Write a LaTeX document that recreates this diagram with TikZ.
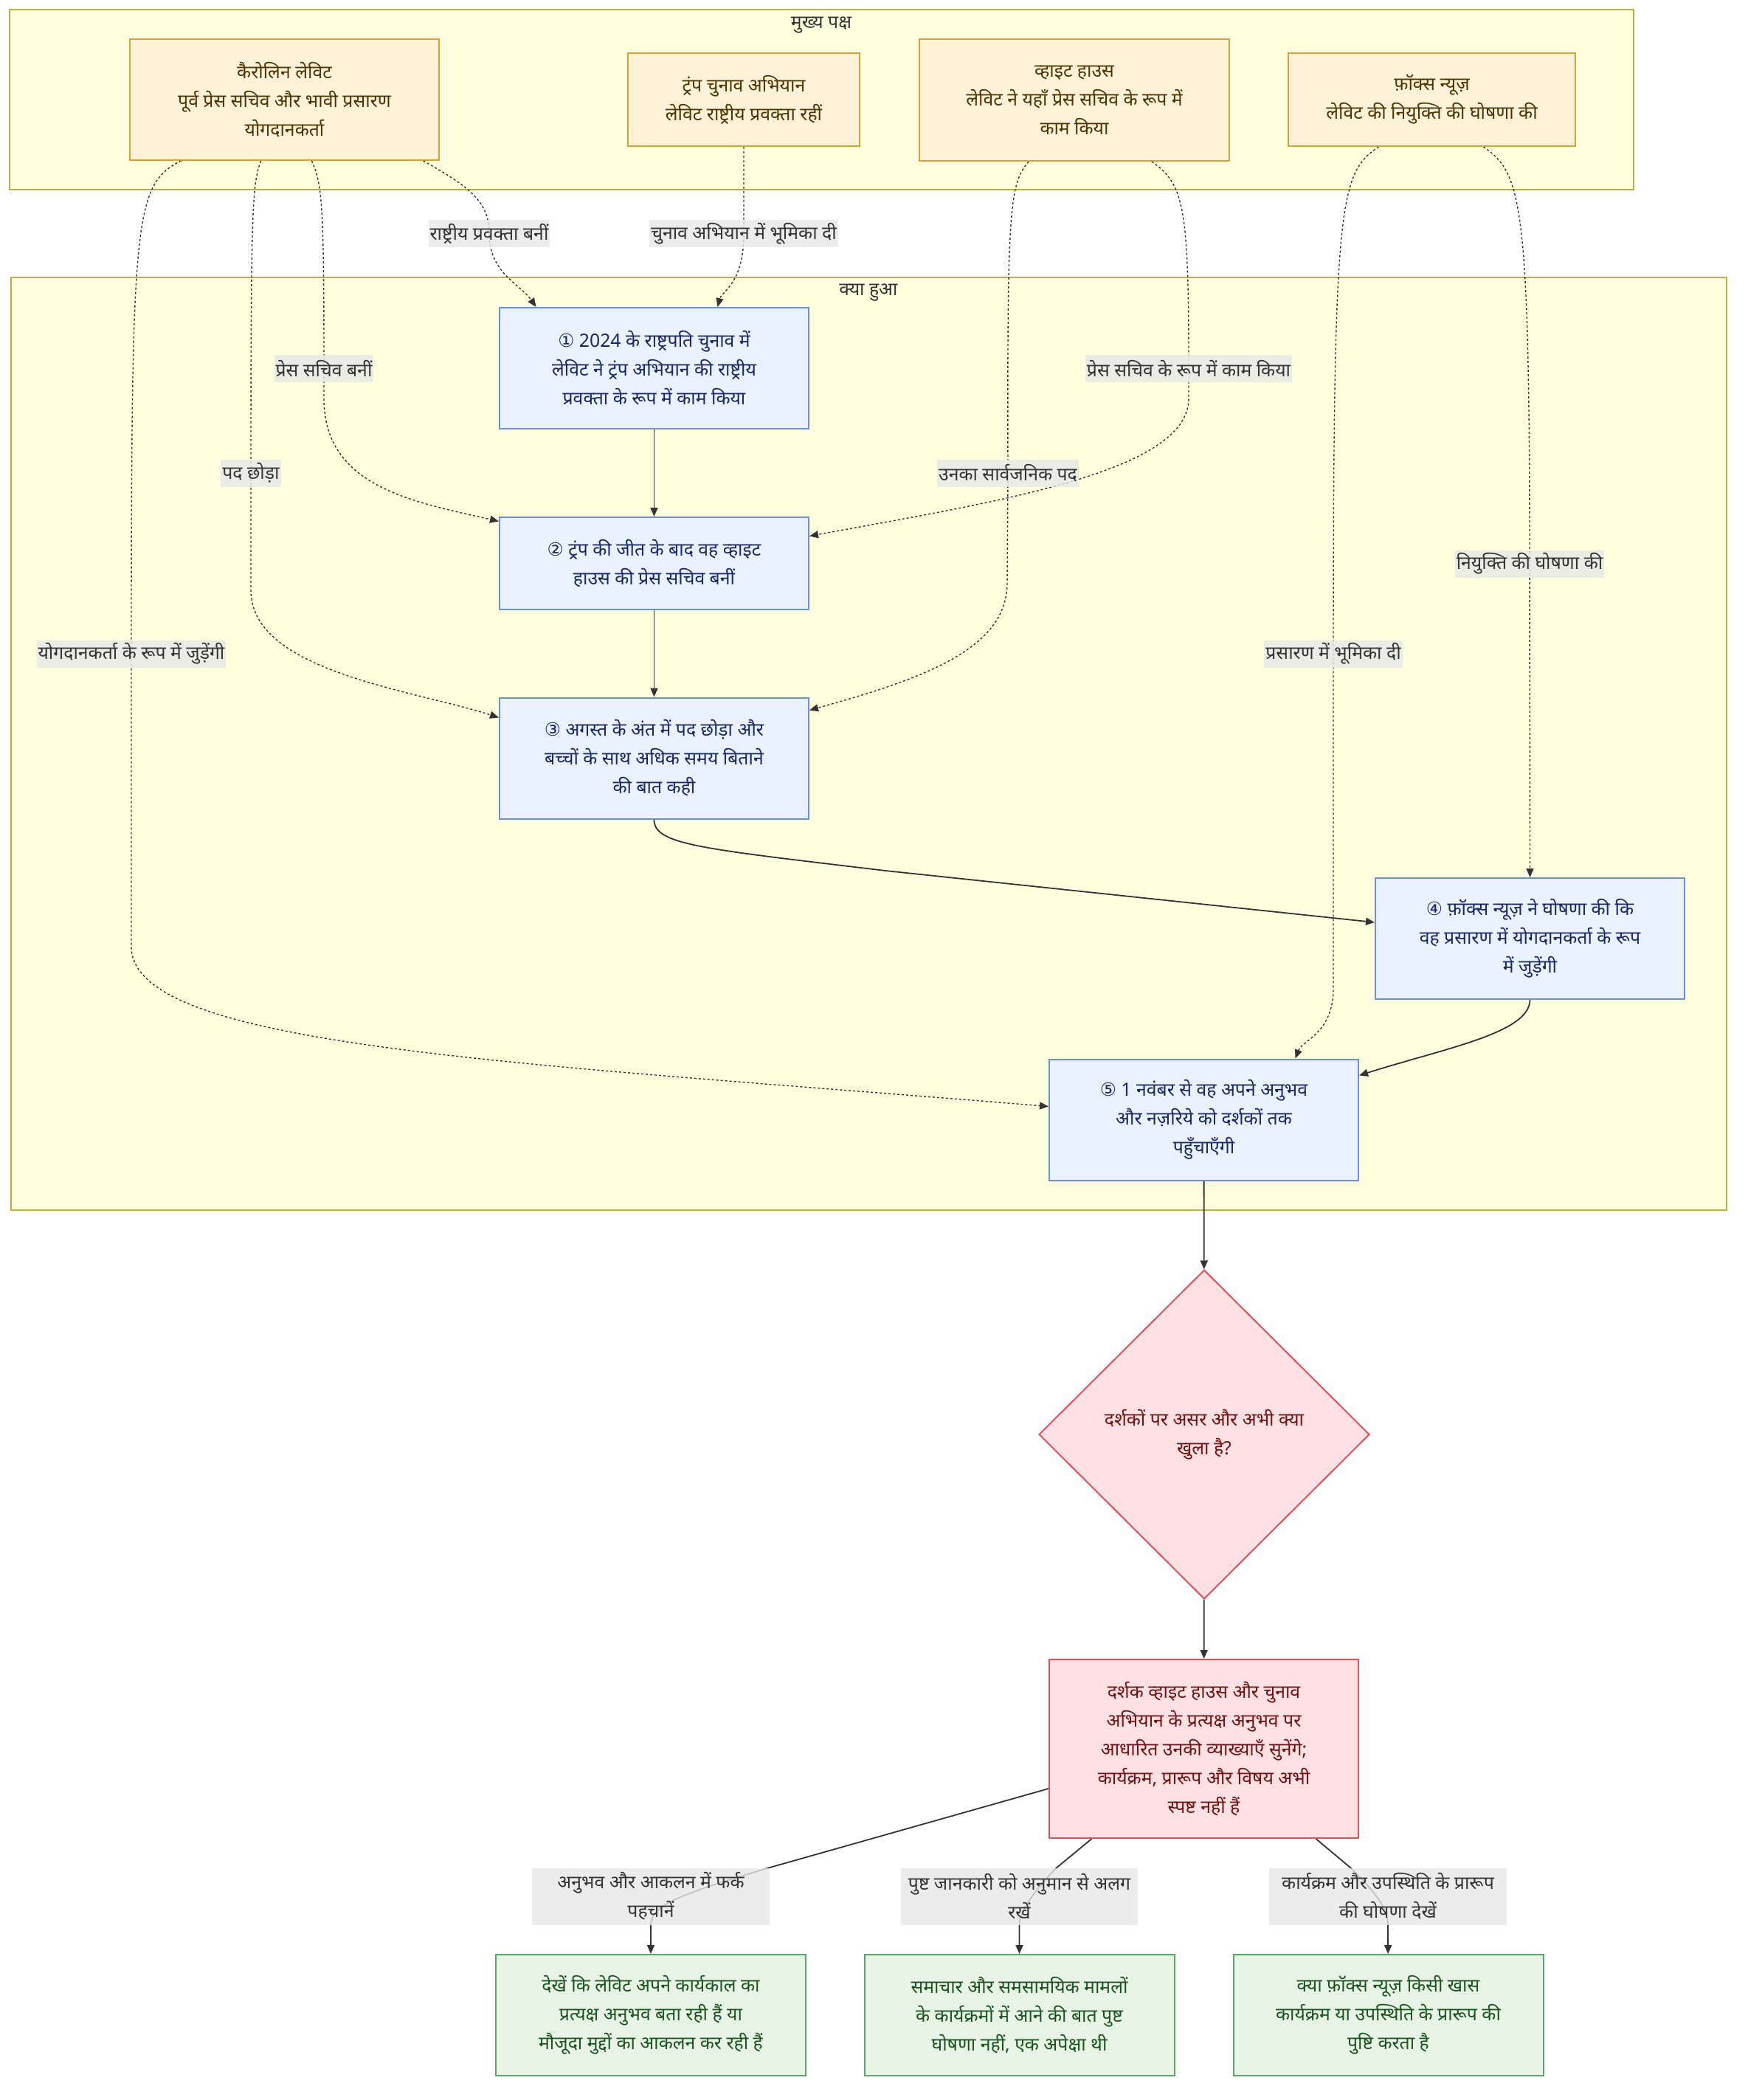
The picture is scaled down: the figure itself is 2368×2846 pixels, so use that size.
\documentclass[tikz,border=0pt]{standalone}
\usepackage{fontspec}
\setmainfont[Script=Devanagari]{Noto Sans}
\newfontfamily\circfont{DejaVu Sans}
\usetikzlibrary{shapes.geometric,arrows.meta}
\pgfdeclarelayer{back}
\pgfdeclarelayer{wires}
\pgfsetlayers{back,wires,main}
\definecolor{grpfill}{HTML}{FFFFDE}
\definecolor{grpline}{HTML}{B3B345}
\definecolor{partyfill}{HTML}{FFF2D9}
\definecolor{partyline}{HTML}{D9A035}
\definecolor{partytext}{HTML}{4D3300}
\definecolor{stepfill}{HTML}{EAF1FF}
\definecolor{stepline}{HTML}{6B8FDB}
\definecolor{steptext}{HTML}{1A2766}
\definecolor{askfill}{HTML}{FFE1E4}
\definecolor{askline}{HTML}{D9545B}
\definecolor{asktext}{HTML}{6E1212}
\definecolor{chkfill}{HTML}{E7F4E5}
\definecolor{chkline}{HTML}{5BA66A}
\definecolor{chktext}{HTML}{1B5320}
\definecolor{lblfill}{HTML}{E8E8E8}
\definecolor{txtgray}{HTML}{333333}
\newcommand{\circno}[1]{{\circfont #1}}
\newcommand{\dtext}{\fontsize{12.4}{19.5}\selectfont}

\begin{document}
\begin{tikzpicture}[x=0.5pt,y=-0.5pt]
    \tikzstyle{grp}=[draw=grpline,fill=grpfill,line width=1pt]
    \tikzstyle{grptitle}=[text=txtgray,font=\dtext,inner sep=0pt]
    \tikzstyle{party}=[draw=partyline,fill=partyfill,text=partytext,line width=1pt,align=center,font=\dtext,inner sep=0pt]
    \tikzstyle{stepbox}=[draw=stepline,fill=stepfill,text=steptext,line width=1pt,align=center,font=\dtext,inner sep=0pt,minimum width=209.5pt,minimum height=82pt]
    \tikzstyle{askbox}=[draw=askline,fill=askfill,text=asktext,line width=1pt,align=center,font=\dtext,inner sep=0pt]
    \tikzstyle{chkbox}=[draw=chkline,fill=chkfill,text=chktext,line width=1pt,align=center,font=\dtext,inner sep=0pt,minimum width=210pt,minimum height=82pt]
    \tikzstyle{lbl}=[fill=lblfill,fill opacity=0.8,text opacity=1,text=txtgray,align=center,font=\dtext,inner xsep=1pt,inner ysep=0pt,minimum height=18.5pt]
    \tikzstyle{solidlink}=[draw=txtgray,line width=0.9pt,-{Triangle[length=6pt,width=5pt]}]
    \tikzstyle{dotlink}=[draw=txtgray,line width=0.7pt,dash pattern=on 1.5pt off 1.5pt,-{Triangle[length=6pt,width=5pt]}]

    \useasboundingbox (0,0) rectangle (2368,2846);

    \begin{pgfonlayer}{back}
    \fill[white] (0,0) rectangle (2368,2846);
    \draw[grp] (13,13) rectangle (2214,257);
    \draw[grp] (15,376) rectangle (2340,1640);
    \end{pgfonlayer}
    \node[grptitle] (sides) at (1113,34) {मुख्य पक्ष};
    \node[grptitle] (events) at (1177,397) {क्या हुआ};

    \node[party,minimum width=209.5pt,minimum height=82pt] (caro) at (385.5,135) {कैरोलिन लेविट\\पूर्व प्रेस सचिव और भावी प्रसारण\\योगदानकर्ता};
    \node[party,minimum width=157pt,minimum height=63pt] (trump) at (1008,135) {ट्रंप चुनाव अभियान\\लेविट राष्ट्रीय प्रवक्ता रहीं};
    \node[party,minimum width=210pt,minimum height=82.5pt] (wh) at (1456,135.5) {व्हाइट हाउस\\लेविट ने यहाँ प्रेस सचिव के रूप में\\काम किया};
    \node[party,minimum width=194.5pt,minimum height=63pt] (fox) at (1940.5,135) {फ़ॉक्स न्यूज़\\लेविट की नियुक्ति की घोषणा की};

    \node[stepbox] (n1) at (886.5,499) {\circno{①} 2024 के राष्ट्रपति चुनाव में\\लेविट ने ट्रंप अभियान की राष्ट्रीय\\प्रवक्ता के रूप में काम किया};
    \node[stepbox,minimum height=62.5pt] (n2) at (886.5,763.5) {\circno{②} ट्रंप की जीत के बाद वह व्हाइट\\हाउस की प्रेस सचिव बनीं};
    \node[stepbox] (n3) at (886.5,1027.5) {\circno{③} अगस्त के अंत में पद छोड़ा और\\बच्चों के साथ अधिक समय बिताने\\की बात कही};
    \node[stepbox] (n4) at (2073.5,1272) {\circno{④} फ़ॉक्स न्यूज़ ने घोषणा की कि\\वह प्रसारण में योगदानकर्ता के रूप\\में जुड़ेंगी};
    \node[stepbox] (n5) at (1631.5,1517.5) {\circno{⑤} 1 नवंबर से वह अपने अनुभव\\और नज़रिये को दर्शकों तक\\पहुँचाएँगी};

    \node[askbox,diamond,minimum width=224pt,minimum height=223pt] (ask) at (1632,1944) {दर्शकों पर असर और अभी क्या\\खुला है?};
    \node[askbox,minimum width=209.5pt,minimum height=121pt] (out) at (1631.5,2370) {दर्शक व्हाइट हाउस और चुनाव\\अभियान के प्रत्यक्ष अनुभव पर\\आधारित उनकी व्याख्याएँ सुनेंगे;\\कार्यक्रम, प्रारूप और विषय अभी\\स्पष्ट नहीं हैं};

    \node[chkbox] (g1) at (882,2731) {देखें कि लेविट अपने कार्यकाल का\\प्रत्यक्ष अनुभव बता रही हैं या\\मौजूदा मुद्दों का आकलन कर रही हैं};
    \node[chkbox] (g2) at (1381.5,2731) {समाचार और समसामयिक मामलों\\के कार्यक्रमों में आने की बात पुष्ट\\घोषणा नहीं, एक अपेक्षा थी};
    \node[chkbox] (g3) at (1881.5,2731) {क्या फ़ॉक्स न्यूज़ किसी खास\\कार्यक्रम या उपस्थिति के प्रारूप की\\पुष्टि करता है};

    \node[lbl] (la) at (663,317) {राष्ट्रीय प्रवक्ता बनीं};
    \node[lbl] (le) at (1008,317) {चुनाव अभियान में भूमिका दी};
    \node[lbl] (lb) at (439,500) {प्रेस सचिव बनीं};
    \node[lbl] (lc) at (340,641) {पद छोड़ा};
    \node[lbl] (ld) at (178,886) {योगदानकर्ता के रूप में जुड़ेंगी};
    \node[lbl] (lf) at (1611,500) {प्रेस सचिव के रूप में काम किया};
    \node[lbl] (lg) at (1366,641) {उनका सार्वजनिक पद};
    \node[lbl] (lh) at (2073,764) {नियुक्ति की घोषणा की};
    \node[lbl] (li) at (1807,886) {प्रसारण में भूमिका दी};
    \node[lbl,minimum width=161pt,minimum height=38.5pt] (lj) at (882,2570) {अनुभव और आकलन में फर्क\\पहचानें};
    \node[lbl,minimum width=160.5pt,minimum height=38.5pt] (lk) at (1381.5,2570) {पुष्ट जानकारी को अनुमान से अलग\\रखें};
    \node[lbl,minimum width=161pt,minimum height=38.5pt] (ll) at (1881,2570) {कार्यक्रम और उपस्थिति के प्रारूप\\की घोषणा देखें};

    \begin{pgfonlayer}{wires}
    \draw[dotlink] ([shift={(188,0)}]caro.south) .. controls (640,255) and (663,275) .. (la.center) .. controls (663,370) and (705,385) .. ([shift={(-160,0)}]n1.north);
    \draw[dotlink] (trump.south) -- (le.center) .. controls (1008,385) and (978,395) .. ([shift={(86,0)}]n1.north);
    \draw[dotlink] ([shift={(37,0)}]caro.south) .. controls (437,250) and (439,280) .. (lb.center) -- (439,540) .. controls (439,660) and (560,680) .. ([shift={(0,-57)}]n2.west);
    \draw[dotlink] ([shift={(-32,0)}]caro.south) .. controls (342,250) and (340,280) .. (lc.center) -- (340,800) .. controls (340,910) and (560,935) .. ([shift={(0,-55)}]n3.west);
    \draw[dotlink] ([shift={(-140,0)}]caro.south) .. controls (182,250) and (178,290) .. (ld.center) -- (178,1283) .. controls (178,1420) and (700,1440) .. ([shift={(0,-18)}]n5.west);
    \draw[dotlink] ([shift={(105,0)}]wh.south) .. controls (1605,250) and (1611,280) .. (lf.center) -- (1611,540) .. controls (1611,640) and (1350,680) .. ([shift={(0,-37)}]n2.east);
    \draw[dotlink] ([shift={(-62,0)}]wh.south) .. controls (1368,250) and (1365,280) .. (lg.center) -- (1365,790) .. controls (1365,880) and (1250,920) .. ([shift={(0,-65)}]n3.east);
    \draw[dotlink] ([shift={(70,0)}]fox.south) .. controls (2062,235) and (2073,270) .. (lh.center) -- (n4.north);
    \draw[dotlink] ([shift={(-72,0)}]fox.south) .. controls (1815,235) and (1807,270) .. (li.center) -- (1807,1340) .. controls (1807,1400) and (1765,1410) .. ([shift={(124,0)}]n5.north);

    \draw[solidlink] (n1) -- (n2);
    \draw[solidlink] (n2) -- (n3);
    \draw[solidlink] (n3.south) .. controls (886,1145) and (950,1150) .. (1200,1180) -- ([shift={(0,-22)}]n4.west);
    \draw[solidlink] (n4.south) .. controls (2073,1400) and (1960,1420) .. ([shift={(0,-60)}]n5.east);
    \draw[solidlink] (n5) -- (ask);
    \draw[solidlink] (ask) -- (out);
    \draw[solidlink] ([shift={(0,54)}]out.west) -- (1043,2531) .. controls (930,2565) and (882,2580) .. (lj.south) -- (g1);
    \draw[solidlink] ([shift={(-152,0)}]out.south) -- (1431,2532) .. controls (1400,2565) and (1382,2590) .. (lk.south) -- (g2);
    \draw[solidlink] ([shift={(152,0)}]out.south) -- (1830,2531) .. controls (1860,2560) and (1881,2585) .. (ll.south) -- (g3);
    \end{pgfonlayer}
\end{tikzpicture}
\end{document}
